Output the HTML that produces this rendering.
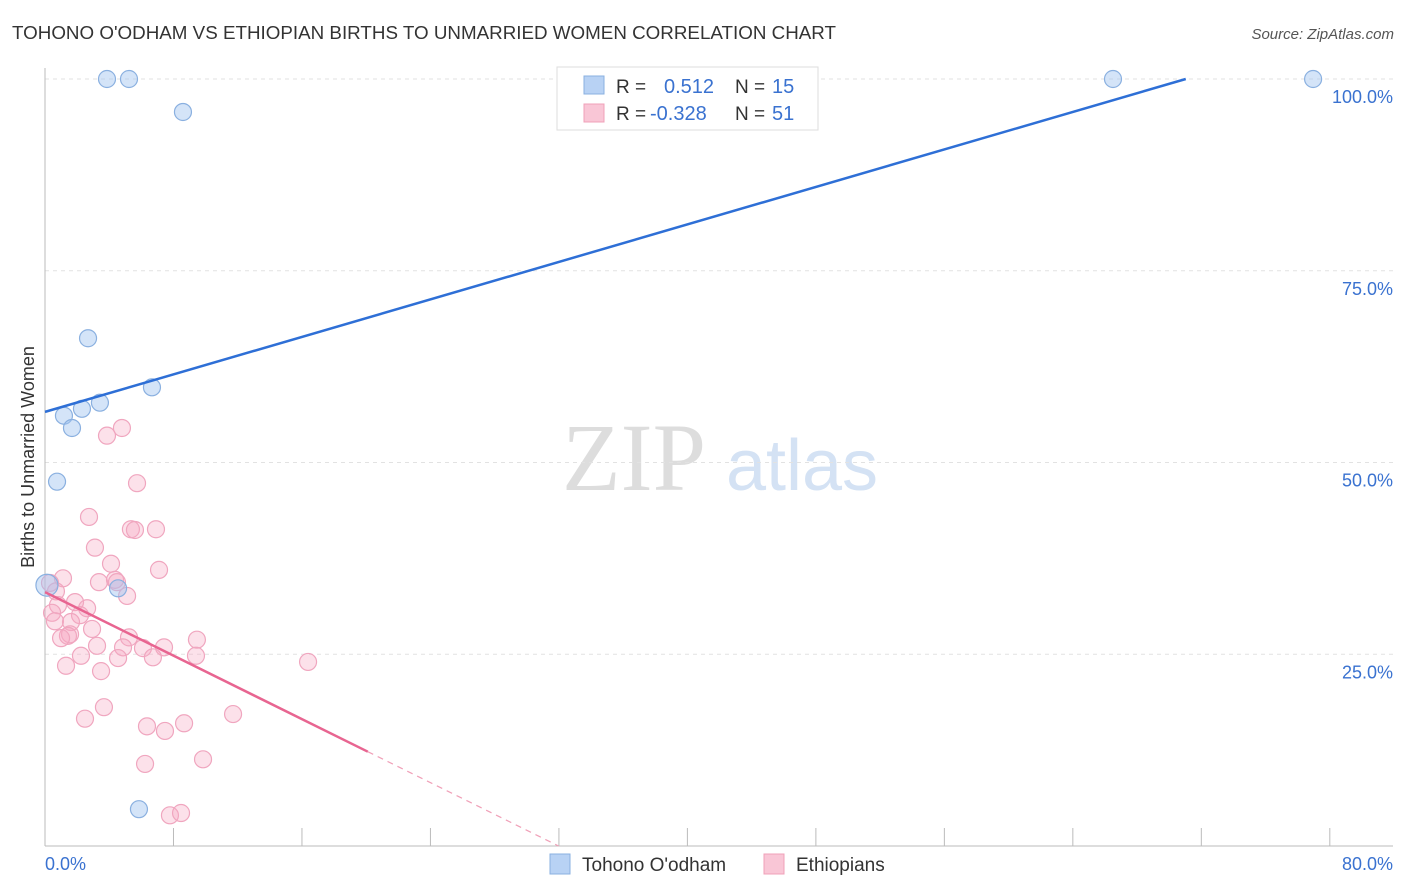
<!DOCTYPE html>
<html><head><meta charset="utf-8"><style>
body{margin:0;background:#fff;font-family:"Liberation Sans",sans-serif;}
svg{display:block}
</style></head><body>
<svg width="1406" height="892" id="c">
<text x="12" y="39" font-size="18" fill="#333" textLength="824" lengthAdjust="spacingAndGlyphs">TOHONO O'ODHAM VS ETHIOPIAN BIRTHS TO UNMARRIED WOMEN CORRELATION CHART</text>
<text x="1394" y="39" font-size="15" fill="#555" font-style="italic" text-anchor="end">Source: ZipAtlas.com</text>
<text x="634" y="490" font-size="96" fill="#ddd" font-family="Liberation Serif,serif" text-anchor="middle">ZIP</text>
<text x="802" y="490" font-size="72" fill="#d4e2f4" text-anchor="middle">atlas</text>
<text transform="translate(34,457) rotate(-90)" font-size="18" fill="#333" text-anchor="middle">Births to Unmarried Women</text>
<g id="grid"></g><g id="marks"></g>
<g>
<rect x="557" y="67" width="261" height="63" fill="#fff" stroke="#ddd"/>
<rect x="584" y="76" width="20" height="18" fill="#b8d2f4" stroke="#8ab0e0"/>
<rect x="584" y="104" width="20" height="18" fill="#f9c6d6" stroke="#f0a0b8"/>
<text x="616" y="93" font-size="19" fill="#333">R =</text><text x="664" y="93" font-size="20" fill="#3a72d0">0.512</text>
<text x="735" y="93" font-size="19" fill="#333">N =</text><text x="772" y="93" font-size="20" fill="#3a72d0">15</text>
<text x="616" y="120" font-size="19" fill="#333">R =</text><text x="650" y="120" font-size="20" fill="#3a72d0">-0.328</text>
<text x="735" y="120" font-size="19" fill="#333">N =</text><text x="772" y="120" font-size="20" fill="#3a72d0">51</text>
</g>
<g>
<rect x="550" y="854" width="20" height="20" fill="#b8d2f4" stroke="#8ab0e0"/>
<text x="582" y="871" font-size="19" fill="#333">Tohono O'odham</text>
<rect x="764" y="854" width="20" height="20" fill="#f9c6d6" stroke="#f0a0b8"/>
<text x="796" y="871" font-size="19" fill="#333">Ethiopians</text>
</g>
</svg>
<script>
const blueX=[3.86,5.23,8.59,66.5,78.96,2.68,6.66,1.18,2.30,3.42,1.68,0.75,4.55,5.85,0.12];
const blueY=[100,100,95.7,100,100,66.2,59.8,56.1,57.0,57.8,54.5,47.5,33.6,4.8,34.0];
const pinkX=[3.86,4.79,5.73,2.74,5.35,5.60,6.91,3.11,4.11,7.10,1.12,3.36,4.36,4.48,0.31,0.68,5.11,1.87,2.62,0.81,0.44,2.18,0.62,1.62,2.93,1.56,1.43,1.00,5.23,9.46,3.24,4.86,6.10,7.41,2.24,4.55,6.72,9.40,1.31,3.49,16.38,3.67,11.71,2.49,6.35,8.66,7.47,9.84,6.23,7.78,8.47];
const pinkY=[53.5,54.5,47.3,42.9,41.3,41.2,41.3,38.9,36.8,36.0,34.9,34.4,34.7,34.4,34.3,33.2,32.6,31.8,31.0,31.4,30.4,30.1,29.3,29.2,28.3,27.6,27.4,27.1,27.2,26.9,26.1,25.9,25.8,25.9,24.8,24.5,24.6,24.8,23.5,22.8,24.0,18.1,17.2,16.6,15.6,16.0,15.0,11.3,10.7,4.0,4.3];
const yTicks=[25,50,75,100];
const yTickLabels=["25.0%","50.0%","75.0%","100.0%"];
const blueFit=[56.6,0.611];
const pinkFit=[33.1,-1.035];
const NS="http://www.w3.org/2000/svg";
const X=v=>45+v*16.06, Y=v=>846-v*7.67;
function mk(t,a,p){const e=document.createElementNS(NS,t);for(const k in a)e.setAttribute(k,a[k]);p.appendChild(e);return e;}
const g=document.getElementById('grid'), m=document.getElementById('marks');
yTicks.forEach((t,i)=>{
 const l=mk('line',{x1:45,x2:1393,y1:Y(t),y2:Y(t),stroke:'#e2e2e2','stroke-dasharray':'4,4'},g);
 
 
 const tx=mk('text',{x:1393,y:Y(t)+24,'font-size':18,fill:'#3a72d0','text-anchor':'end'},g);tx.textContent=yTickLabels[i];
 
 
});
mk('line',{x1:45,x2:45,y1:68,y2:846,stroke:'#bbb'},g);
mk('line',{x1:45,x2:1393,y1:846,y2:846,stroke:'#bbb'},g);
for(let i=0;i<=10;i++){mk('line',{x1:X(i*8),x2:X(i*8),y1:828,y2:846,stroke:'#bbb'},g);}
let t0=mk('text',{x:45,y:870,'font-size':18,fill:'#3a72d0'},g);t0.textContent='0.0%';


let t1=mk('text',{x:1393,y:870,'font-size':18,fill:'#3a72d0','text-anchor':'end'},g);t1.textContent='80.0%';


pinkX.forEach((x,i)=>{const c=mk('circle',{cx:X(x),cy:Y(pinkY[i]),r:8.5,fill:'rgba(245,170,195,0.35)',stroke:'#f0a6bf','stroke-width':1.2},m);
 
 });
blueX.forEach((x,i)=>{const c=mk('circle',{cx:X(x),cy:Y(blueY[i]),r:i==14?11:8.5,fill:'rgba(160,195,240,0.45)',stroke:'#8ab0e0','stroke-width':1.2},m);
 
 });
const bx2=(100-blueFit[0])/blueFit[1];
const bl=mk('line',{x1:X(0),y1:Y(blueFit[0]),x2:X(bx2),y2:Y(100),stroke:'#2e6fd6','stroke-width':2.5},m);


const pe=20.1, pz=-pinkFit[0]/pinkFit[1];
const pl=mk('line',{x1:X(0),y1:Y(pinkFit[0]),x2:X(pe),y2:Y(pinkFit[0]+pinkFit[1]*pe),stroke:'#e86591','stroke-width':2.5},m);


const pd=mk('line',{x1:X(pe),y1:Y(pinkFit[0]+pinkFit[1]*pe),x2:X(pz),y2:Y(0),stroke:'#f0a0b8','stroke-width':1.2,'stroke-dasharray':'6,5'},m);


</script>
</body></html>
